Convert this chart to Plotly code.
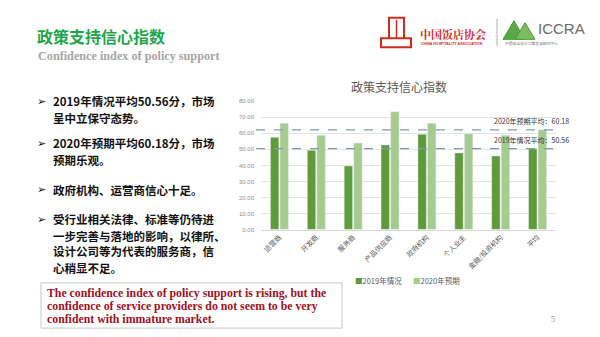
import plotly.graph_objects as go

categories = ["运营商", "开发商", "服务商", "产品供应商", "政府机构", "个人业主", "金融/投资机构", "平均"]
values_2019 = [57.5, 49.4, 39.6, 52.7, 59.4, 47.8, 45.9, 50.4]
values_2020 = [66.3, 58.8, 53.9, 73.5, 66.3, 59.8, 58.8, 62.2]
series_names = ["2019年情况", "2020年预期"]
y_ticks = [0, 10, 20, 30, 40, 50, 60, 70, 80]
avg_labels = ["2019年情况平均：50.56", "2020年预期平均：60.18"]

bullets = [
    ["2019年情况平均50.56分，市场", "呈中立保守态势。"],
    ["2020年预期平均60.18分，市场", "预期乐观。"],
    ["政府机构、运营商信心十足。"],
    ["受行业相关法律、标准等仍待进", "一步完善与落地的影响，以律所、", "设计公司等为代表的服务商，信", "心稍显不足。"],
]

C19 = "#5f9a3b"
C20 = "#a6cb8e"
CJK = "Noto Sans CJK SC"
W, H = 600, 337

def px(x):
    return x / W

def py(y):
    return 1 - y / H

def ann(x, y, text, size, color, family=CJK, xa="left", ya="middle", xref="paper", yref="paper"):
    return dict(x=x, y=y, xref=xref, yref=yref, text=text, showarrow=False, xanchor=xa, yanchor=ya,
                font=dict(family=family, size=size, color=color))

fig = go.Figure()
fig.add_trace(go.Bar(x=categories, y=values_2019, name=series_names[0], marker_color=C19, showlegend=False))
fig.add_trace(go.Bar(x=categories, y=values_2020, name=series_names[1], marker_color=C20, showlegend=False))

shapes = []
annotations = []

# dashed average lines (positioned at the 平均 bars)
for v in [values_2019[-1], values_2020[-1]]:
    shapes.append(dict(type="line", xref="paper", yref="y", x0=px(256), x1=px(562), y0=v, y1=v,
                       line=dict(color="#8497b0", width=1.3, dash="dash")))
annotations.append(ann(px(492), values_2019[-1] + 5.6, avg_labels[0], 7, "#333333", yref="y"))
annotations.append(ann(px(492), values_2020[-1] + 5.6, avg_labels[1], 7, "#333333", yref="y"))

# chart title
annotations.append(ann(px(399), py(85), "政策支持信心指数", 12, "#595959", xa="center"))

# manual legend
annotations.append(ann(px(353), py(283), f"<span style='color:{C19}'>■</span>{series_names[0]}", 7.5, "#595959"))
annotations.append(ann(px(411), py(283), f"<span style='color:{C20}'>■</span>{series_names[1]}", 7.5, "#595959"))

# slide title
annotations.append(ann(px(35), py(34), "<b>政策支持信心指数</b>", 16, "#1fa64a"))
annotations.append(ann(px(36), py(54), "<b>Confidence index of policy support</b>", 12.2, "#a6a6a6",
                       family="Liberation Serif"))

# bullets
line_y = [[100, 117], [143, 160], [190], [220, 237, 253, 270]]
for lines, ys in zip(bullets, line_y):
    annotations.append(ann(px(35), py(ys[0]), "➢", 11, "#111111", family="DejaVu Sans"))
    for t, yy in zip(lines, ys):
        annotations.append(ann(px(51), py(yy), "<b>" + t + "</b>", 11.5, "#111111"))

# red note box
shapes.append(dict(type="rect", xref="paper", yref="paper", x0=px(41), x1=px(342), y0=py(331), y1=py(285),
                   line=dict(color="#c8c8c8", width=1), fillcolor="white"))
note = ["The confidence index of policy support is rising, but the",
        "confidence of service providers do not seem to be very",
        "confident with immature market."]
for t, yy in zip(note, [295, 308, 322]):
    annotations.append(ann(px(45), py(yy), "<b>" + t + "</b>", 11.8, "#a0101e", family="Liberation Serif"))

# page number
annotations.append(ann(px(553), py(322), "5", 8, "#9a9a9a", family="Liberation Serif", xa="center"))

# logos (approximate)
red = "#d42a1e"
shapes += [
    dict(type="rect", xref="paper", yref="paper", x0=px(389), x1=px(404), y0=py(44), y1=py(15),
         line=dict(color=red, width=2), fillcolor="white"),
    dict(type="line", xref="paper", yref="paper", x0=px(396.5), x1=px(396.5), y0=py(44), y1=py(17),
         line=dict(color=red, width=1.5)),
    dict(type="rect", xref="paper", yref="paper", x0=px(381), x1=px(411), y0=py(45), y1=py(36),
         line=dict(color=red, width=2), fillcolor="white"),
    dict(type="line", xref="paper", yref="paper", x0=px(497), x1=px(497), y0=py(44), y1=py(16),
         line=dict(color="#b0b0b0", width=1)),
    dict(type="path", xref="paper", yref="paper",
         path=f"M {px(503)} {py(37)} L {px(514)} {py(18)} L {px(525)} {py(37)} Z",
         line=dict(color="#4a9a3a", width=1), fillcolor="#5aa845"),
    dict(type="path", xref="paper", yref="paper",
         path=f"M {px(515)} {py(37)} L {px(525)} {py(20)} L {px(535)} {py(37)} Z",
         line=dict(color="#4a9a3a", width=1), fillcolor="#7dbb5f"),
]
annotations += [
    ann(px(418), py(32), "<b>中国饭店协会</b>", 11, red, family="Noto Serif CJK SC, Noto Sans CJK SC"),
    ann(px(419), py(41.5), "<b>CHINA HOSPITALITY ASSOCIATION</b>", 3.6, red, family="Liberation Sans"),
    ann(px(536), py(26), "ICCRA", 15, "#6b6b6b", family="Liberation Sans Narrow, Liberation Sans"),
    ann(px(503), py(41), "中国饭店协会公寓发展研究中心", 3.8, "#777777"),
]

fig.update_layout(
    width=W, height=H, margin=dict(l=0, r=0, t=0, b=0),
    paper_bgcolor="white", plot_bgcolor="white",
    barmode="group", bargap=0.48, bargroupgap=0.12,
    showlegend=False,
    xaxis=dict(domain=[px(261), px(556)], tickangle=-45, showline=True, linecolor="#d9d9d9",
               tickfont=dict(family=CJK, size=7, color="#595959"), ticks=""),
    yaxis=dict(domain=[py(230.7), py(100)], range=[0, 80], tickvals=y_ticks,
               ticktext=[f"{v:.2f}" for v in y_ticks], showgrid=True, gridcolor="#e3e3e3",
               zeroline=False, tickfont=dict(family="Liberation Sans", size=6, color="#8c8c8c"),
               ticklabelstandoff=6),
    shapes=shapes, annotations=annotations,
)

fig.write_html("out.html")
